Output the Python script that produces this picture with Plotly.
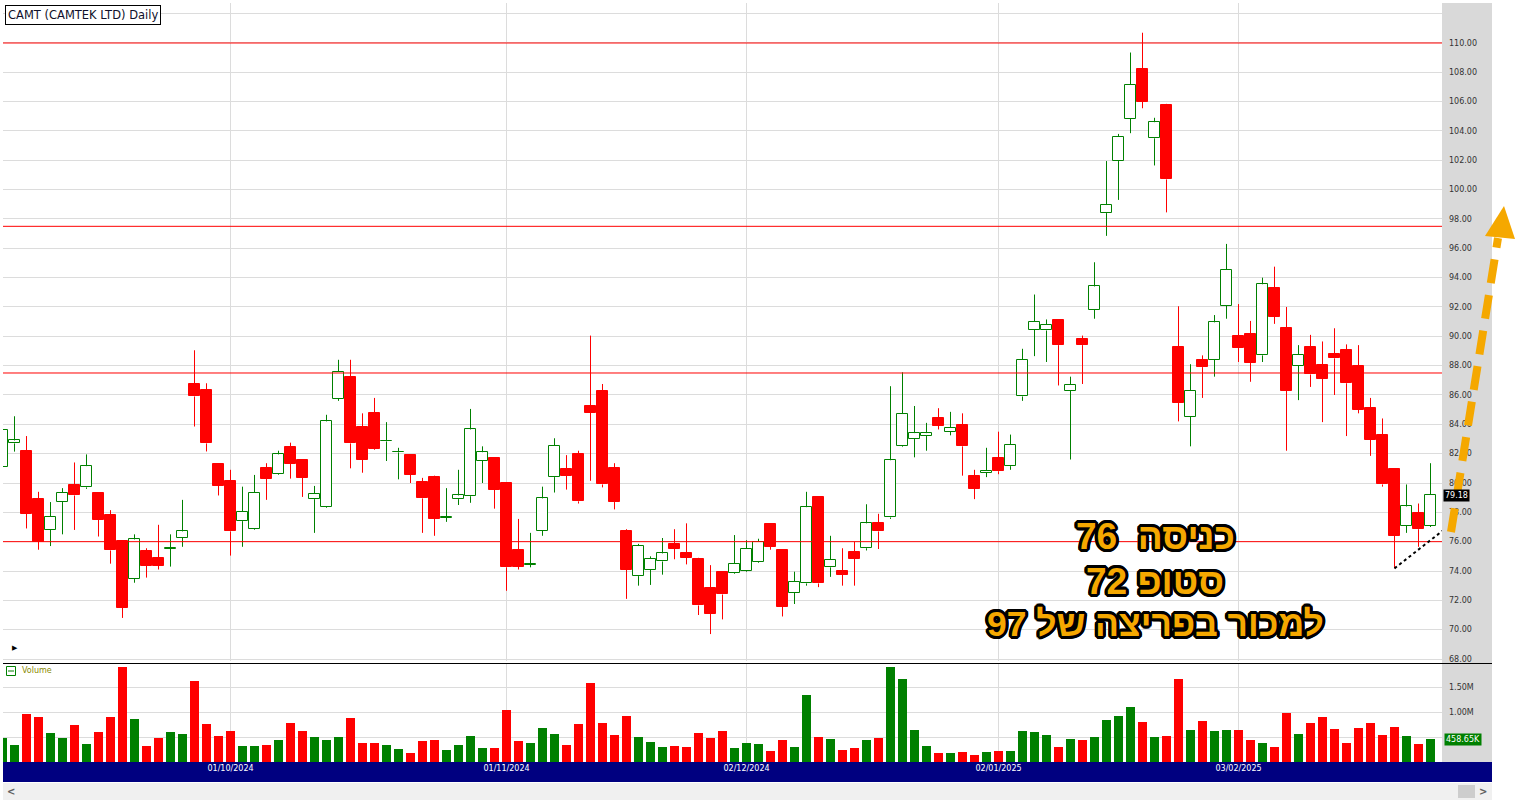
import plotly.graph_objects as go
import pandas as pd

W, H = 1516, 801

# ---------------- data ----------------
holidays = ["2024-11-28", "2024-12-25", "2025-01-01", "2025-01-09", "2025-01-20", "2025-02-17"]
dates = [d.strftime("%d/%m/%Y") for d in pd.bdate_range("2024-09-04", "2025-02-26")
         if d.strftime("%Y-%m-%d") not in holidays]

opens = [81.1, 82.7, 82.2, 78.9, 76.8, 78.7, 79.85, 79.7, 79.3, 77.8,
         76.05, 73.45, 75.35, 74.9, 75.5, 76.25, 86.75, 86.35, 81.3, 80.15,
         77.4, 76.85, 81.0, 80.6, 82.45, 81.55, 78.9, 78.35, 85.75, 87.25,
         83.8, 84.75, 82.83, 82.08, 81.9, 80.05, 80.4, 77.64, 78.9, 79.1,
         81.5, 81.7, 80.0, 75.45, 74.44, 76.75, 80.4, 80.95, 82.0, 85.25,
         86.25, 81.0, 76.75, 73.65, 74.1, 74.65, 75.85, 75.2, 74.8, 72.85,
         73.95, 73.85, 74.0, 74.6, 77.2, 75.45, 72.5, 73.15, 79.05, 74.25,
         74.0, 75.3, 75.55, 77.25, 77.65, 82.5, 83.0, 83.2, 84.45, 83.5,
         83.95, 80.5, 80.7, 81.7, 81.15, 85.9, 90.45, 90.4, 91.1, 86.3,
         89.8, 91.8, 98.4, 101.95, 104.85, 108.25, 103.5, 105.8, 89.3, 84.5,
         88.4, 88.4, 92.1, 90.0, 90.15, 88.7, 93.3, 90.6, 88.0, 89.25,
         88.05, 88.8, 89.05, 88.0, 85.1, 83.25, 80.95, 77.1, 77.95, 77.1]
highs = [84.5, 84.55, 83.2, 79.4, 78.7, 79.65, 81.4, 81.95, 79.35, 78.15,
         76.1, 76.5, 75.55, 77.15, 76.5, 78.85, 89.05, 86.8, 81.35, 80.9,
         79.75, 80.55, 81.35, 82.2, 82.75, 81.6, 79.8, 84.65, 88.4, 88.4,
         84.75, 85.8, 84.15, 82.4, 81.95, 80.35, 80.5, 79.65, 80.9, 85.05,
         82.5, 81.75, 80.05, 77.55, 76.6, 79.75, 83.05, 81.9, 82.2, 90.05,
         86.75, 81.35, 76.85, 75.85, 75.0, 76.25, 76.85, 77.25, 74.9, 74.4,
         74.0, 76.45, 76.1, 76.2, 77.25, 75.5, 73.95, 79.4, 79.1, 76.4,
         75.55, 76.0, 78.55, 77.9, 86.6, 87.55, 85.25, 84.1, 85.1, 84.85,
         84.75, 80.9, 82.4, 83.5, 83.3, 89.15, 92.85, 91.15, 91.15, 87.25,
         90.05, 95.05, 101.95, 103.8, 109.35, 110.7, 104.9, 105.85, 92.05, 88.1,
         88.7, 91.45, 96.3, 92.2, 91.05, 94.0, 94.75, 92.0, 89.4, 90.1,
         89.65, 90.55, 89.45, 89.4, 85.8, 84.4, 81.0, 79.9, 78.6, 81.35]
lows = [80.6, 82.14, 76.9, 75.45, 75.7, 76.5, 76.8, 79.6, 76.35, 74.5,
        70.8, 73.2, 73.55, 74.1, 74.3, 75.65, 83.85, 82.15, 79.15, 75.05,
        75.65, 76.8, 78.85, 80.55, 80.3, 79.05, 76.6, 78.3, 85.6, 81.0,
        80.7, 82.25, 81.5, 80.25, 80.0, 76.6, 76.4, 77.35, 78.5, 78.65,
        80.0, 78.25, 72.65, 74.1, 74.25, 76.4, 79.35, 79.55, 78.6, 80.15,
        79.7, 78.2, 72.1, 73.0, 73.05, 73.75, 74.8, 74.45, 71.0, 69.7,
        70.7, 73.8, 73.95, 74.55, 75.45, 70.9, 71.75, 73.0, 72.9, 73.6,
        73.0, 73.0, 75.4, 75.5, 77.55, 82.45, 81.75, 82.2, 83.65, 83.25,
        80.5, 78.9, 80.4, 80.6, 80.9, 85.6, 88.65, 88.25, 86.65, 81.6,
        86.75, 91.2, 96.85, 99.3, 103.85, 105.55, 101.65, 98.45, 84.2, 82.5,
        85.8, 87.25, 91.2, 88.25, 86.9, 88.25, 90.85, 82.2, 85.65, 86.55,
        84.15, 86.0, 83.2, 84.75, 81.85, 79.75, 74.18, 76.6, 75.65, 77.0]
closes = [83.6, 82.9, 77.9, 76.0, 77.7, 79.35, 79.15, 81.15, 77.5, 75.4,
          71.5, 76.15, 74.35, 74.35, 75.6, 76.7, 85.9, 82.7, 79.8, 76.7,
          78.05, 79.35, 80.3, 81.95, 81.3, 80.35, 79.25, 84.2, 87.6, 82.7,
          81.6, 82.3, 82.85, 82.1, 80.55, 78.95, 77.55, 77.67, 79.15, 83.65,
          82.1, 79.55, 74.25, 74.3, 74.46, 78.95, 82.55, 80.5, 78.75, 84.8,
          79.9, 78.7, 74.1, 75.7, 74.85, 75.2, 75.5, 74.9, 71.65, 71.1,
          72.4, 74.5, 75.5, 76.0, 75.65, 71.55, 73.25, 78.35, 73.15, 74.75,
          73.75, 74.85, 77.25, 76.7, 81.55, 84.7, 83.4, 83.4, 83.9, 83.75,
          82.5, 79.6, 80.85, 80.8, 82.6, 88.4, 91.0, 90.8, 89.4, 86.7,
          89.4, 93.4, 98.95, 103.6, 107.15, 106.0, 104.6, 100.7, 85.45, 86.3,
          87.9, 90.95, 94.55, 89.2, 88.2, 93.55, 91.35, 86.3, 88.75, 87.4,
          87.1, 88.5, 86.8, 85.0, 82.95, 79.9, 76.4, 78.4, 76.85, 79.18]
volume_m = [0.487, 0.347, 0.967, 0.907, 0.587, 0.487, 0.747, 0.367, 0.607, 0.907,
            1.907, 0.867, 0.327, 0.487, 0.607, 0.567, 1.627, 0.767, 0.527, 0.627,
            0.327, 0.327, 0.347, 0.447, 0.787, 0.627, 0.507, 0.447, 0.507, 0.887,
            0.387, 0.387, 0.347, 0.267, 0.187, 0.427, 0.447, 0.247, 0.347, 0.527,
            0.287, 0.287, 1.047, 0.427, 0.387, 0.687, 0.567, 0.347, 0.767, 1.587,
            0.787, 0.547, 0.927, 0.507, 0.407, 0.307, 0.327, 0.307, 0.587, 0.487,
            0.627, 0.287, 0.387, 0.367, 0.227, 0.447, 0.307, 1.347, 0.507, 0.467,
            0.247, 0.287, 0.447, 0.487, 1.907, 1.667, 0.647, 0.327, 0.187, 0.187,
            0.207, 0.147, 0.207, 0.227, 0.227, 0.627, 0.607, 0.547, 0.307, 0.467,
            0.447, 0.507, 0.847, 0.927, 1.107, 0.807, 0.507, 0.527, 1.667, 0.647,
            0.827, 0.627, 0.647, 0.647, 0.447, 0.387, 0.307, 0.987, 0.567, 0.787,
            0.907, 0.667, 0.387, 0.687, 0.787, 0.547, 0.707, 0.527, 0.367, 0.45865]

date_ticks = ["01/10/2024", "01/11/2024", "02/12/2024", "02/01/2025", "03/02/2025"]
price_ticks = list(range(68, 113, 2))
vol_ticks = [0.5, 1.0, 1.5]
vol_tick_text = ["", "1.00M", "1.50M"]
levels = [110, 97.5, 87.5, 76]
last_price = 79.18
last_volume_text = "458.65K"
title_text = "CAMT (CAMTEK LTD) Daily"
notes = ["\u202bכניסה  76\u202c", "\u202bסטופ 72\u202c", "\u202bלמכור בפריצה של 97\u202c"]
trend_x = [116, 121.5]
trend_y = [74.18, 77.7]

# ---------------- helpers ----------------
def px(x):
    return x / W

def py(y):
    return 1 - y / H

GREEN = "#008000"
RED = "#ff0000"
GRID = "#dcdcdc"
ORANGE = "#f5a800"

n = len(closes)
idx = list(range(n))
up = [closes[i] >= opens[i] for i in idx]

fig = go.Figure()

# wicks (segments outside the body so hollow bodies stay empty)
for is_up, col in ((True, GREEN), (False, RED)):
    wx, wy = [], []
    for i in idx:
        if up[i] != is_up:
            continue
        lo_b, hi_b = min(opens[i], closes[i]), max(opens[i], closes[i])
        wx += [i, i, None, i, i, None]
        wy += [lows[i], lo_b, None, hi_b, highs[i], None]
    fig.add_trace(go.Scatter(x=wx, y=wy, mode="lines", line=dict(color=col, width=1),
                             hoverinfo="skip", showlegend=False, xaxis="x", yaxis="y"))

# bodies
for is_up, fill, col in ((True, "white", GREEN), (False, RED, RED)):
    bx = [i for i in idx if up[i] == is_up]
    base = [min(opens[i], closes[i]) for i in bx]
    hgt = [max(abs(closes[i] - opens[i]), 0.04) for i in bx]
    fig.add_trace(go.Bar(x=bx, y=hgt, base=base, width=0.84,
                         marker=dict(color=fill, line=dict(color=col, width=1)),
                         hovertext=[dates[i] for i in bx], hoverinfo="text",
                         showlegend=False, xaxis="x", yaxis="y"))

# volume
fig.add_trace(go.Bar(x=idx, y=volume_m, width=0.83,
                     marker=dict(color=[GREEN if u else RED for u in up], line=dict(width=0)),
                     hoverinfo="skip", showlegend=False, xaxis="x2", yaxis="y2"))

tick_idx = [dates.index(t) for t in date_ticks]
x_dom = [px(3), px(1442)]
x_rng = [0.083 - 0.5 / 12, 120.0 - 0.5 / 12]

fig.update_layout(
    width=W, height=H, autosize=False,
    margin=dict(l=0, r=0, t=0, b=0, pad=0),
    paper_bgcolor="white", plot_bgcolor="white",
    barmode="overlay", bargap=0,
    showlegend=False,
    font=dict(family="DejaVu Sans", size=8, color="#333333"),
    xaxis=dict(domain=x_dom, range=x_rng, anchor="y", tickvals=tick_idx,
               showticklabels=False, showgrid=True, gridcolor=GRID, gridwidth=1,
               zeroline=False, showline=False, ticks="", automargin=False),
    xaxis2=dict(domain=x_dom, range=x_rng, anchor="y2", matches="x", tickvals=tick_idx,
                ticktext=date_ticks, tickfont=dict(color="white", size=8, family="DejaVu Sans"),
                showgrid=True, gridcolor=GRID, gridwidth=1, zeroline=False,
                showline=False, ticks="", automargin=False),
    yaxis=dict(domain=[py(661), py(3)], range=[68 - 2 / 14.667, 68 + 656 / 14.667],
               anchor="x", side="right", tickvals=price_ticks,
               ticktext=[f"{v:.2f}" if v <= 110 else "" for v in price_ticks],
               showgrid=True, gridcolor=GRID, gridwidth=1, zeroline=False,
               showline=False, ticks="", ticklabelstandoff=6, automargin=False,
               tickfont=dict(size=8, color="#333333", family="DejaVu Sans")),
    yaxis2=dict(domain=[py(762), py(664)], range=[0, (762 - 664) / 50],
                anchor="x2", side="right", tickvals=vol_ticks, ticktext=vol_tick_text,
                showgrid=True, gridcolor=GRID, gridwidth=1, zeroline=False,
                showline=False, ticks="", ticklabelstandoff=6, automargin=False,
                tickfont=dict(size=8, color="#333333", family="DejaVu Sans")),
)

shapes = []
# right axis band
shapes.append(dict(type="rect", xref="paper", yref="paper", x0=px(1442), x1=px(1492),
                   y0=py(762), y1=py(3), fillcolor="#d9d9d9", line=dict(width=0), layer="below"))
# date band
shapes.append(dict(type="rect", xref="paper", yref="paper", x0=px(3), x1=px(1492),
                   y0=py(782), y1=py(762), fillcolor="#000080", line=dict(width=0), layer="below"))
# scrollbar
shapes.append(dict(type="rect", xref="paper", yref="paper", x0=px(3), x1=px(1492),
                   y0=py(800), y1=py(783), fillcolor="#f0f0f0", line=dict(width=0), layer="below"))
shapes.append(dict(type="rect", xref="paper", yref="paper", x0=px(1458), x1=px(1475),
                   y0=py(798), y1=py(785), fillcolor="#cdcdcd", line=dict(width=0), layer="below"))
# pane separator
shapes.append(dict(type="line", xref="paper", yref="paper", x0=px(3), x1=px(1492),
                   y0=py(663.5), y1=py(663.5), line=dict(color="black", width=1), layer="above"))
# horizontal levels
for lv in levels:
    shapes.append(dict(type="line", xref="x domain", yref="y", x0=0, x1=1, y0=lv, y1=lv,
                       line=dict(color=RED, width=1), layer="above"))
# dotted trend line
shapes.append(dict(type="line", xref="x", yref="y", x0=trend_x[0], x1=trend_x[1],
                   y0=trend_y[0], y1=trend_y[1], line=dict(color="black", width=2, dash="dot"),
                   layer="above"))
# orange dashed arrow
shapes.append(dict(type="line", xref="paper", yref="paper", x0=px(1451), y0=py(532),
                   x1=px(1498), y1=py(238), line=dict(color=ORANGE, width=8, dash="24px,12px"),
                   layer="above"))
shapes.append(dict(type="path", xref="paper", yref="paper",
                   path=f"M {px(1485)},{py(236)} L {px(1504)},{py(206)} L {px(1515)},{py(239)} Z",
                   fillcolor=ORANGE, line=dict(width=0), layer="above"))
# volume legend icon
shapes.append(dict(type="rect", xref="paper", yref="paper", x0=px(6.5), x1=px(15.5),
                   y0=py(675.5), y1=py(666.5), line=dict(color=GREEN, width=1), fillcolor="white",
                   layer="above"))
shapes.append(dict(type="line", xref="paper", yref="paper", x0=px(8), x1=px(14),
                   y0=py(671), y1=py(671), line=dict(color=GREEN, width=1), layer="above"))
fig.update_layout(shapes=shapes)

ring = []
for dx, dy in [(3, 0), (-3, 0), (0, 3), (0, -3), (2, 2), (-2, -2), (2, -2), (-2, 2),
               (3, 1), (3, -1), (-3, 1), (-3, -1), (1, 3), (-1, 3), (1, -3), (-1, -3)]:
    ring.append(f"{dx}px {dy}px 0 #000")
outline = ", ".join(ring)

ann = []
ann.append(dict(xref="paper", yref="paper", x=px(5), y=py(5), xanchor="left", yanchor="top",
                text=title_text, showarrow=False, bgcolor="white", bordercolor="black",
                borderwidth=1, borderpad=2,
                font=dict(family="DejaVu Sans", size=11.5, color="#10102a")))
for txt, cy, fs in zip(notes, [536, 581, 624], [37, 37, 35.5]):
    ann.append(dict(xref="paper", yref="paper", x=px(1155), y=py(cy), xanchor="center",
                    yanchor="middle", text=txt, showarrow=False,
                    font=dict(family="Liberation Sans, DejaVu Sans, sans-serif", size=fs,
                              color=ORANGE, weight="bold", shadow=outline)))
ann.append(dict(xref="paper", yref="y", x=px(1443), y=last_price, xanchor="left",
                yanchor="middle", text=f"{last_price:.2f}", showarrow=False, bgcolor="black",
                borderpad=1, font=dict(family="DejaVu Sans", size=8, color="white")))
ann.append(dict(xref="paper", yref="y2", x=px(1444), y=volume_m[-1], xanchor="left",
                yanchor="middle", text=last_volume_text, showarrow=False, bgcolor=GREEN,
                borderpad=1, font=dict(family="DejaVu Sans", size=8, color="white")))
ann.append(dict(xref="paper", yref="paper", x=px(20), y=py(670.5), xanchor="left",
                yanchor="middle", text="Volume", showarrow=False,
                font=dict(family="DejaVu Sans", size=8, color="#8a8a00")))
ann.append(dict(xref="paper", yref="paper", x=px(15), y=py(648), xanchor="center",
                yanchor="middle", text="▶", showarrow=False,
                font=dict(family="DejaVu Sans", size=7, color="black")))
ann.append(dict(xref="paper", yref="paper", x=px(11), y=py(791.5), xanchor="center",
                yanchor="middle", text="<", showarrow=False,
                font=dict(family="DejaVu Sans", size=10, color="#606060", weight="bold")))
ann.append(dict(xref="paper", yref="paper", x=px(1483), y=py(791.5), xanchor="center",
                yanchor="middle", text=">", showarrow=False,
                font=dict(family="DejaVu Sans", size=10, color="#606060", weight="bold")))
fig.update_layout(annotations=ann)

fig.write_html("out.html", config={"displayModeBar": False, "responsive": False},
               post_script="document.body.style.margin='0px';"
               "document.body.style.overflow='hidden';")
